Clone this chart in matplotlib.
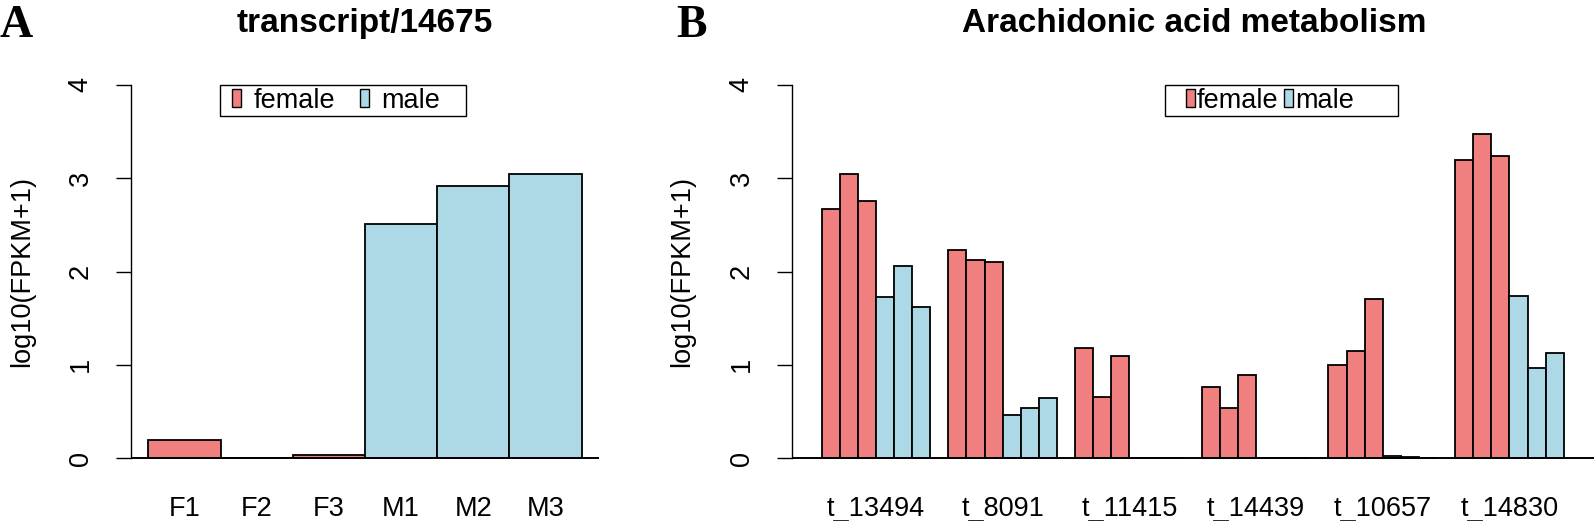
import matplotlib.pyplot as plt
import numpy as np
from matplotlib.patches import Rectangle, Patch

plt.rcParams['font.family'] = 'Liberation Sans'

# panel A data
samples_a = ['F1', 'F2', 'F3', 'M1', 'M2', 'M3']
sex_a = ['female', 'female', 'female', 'male', 'male', 'male']
expr_a = [0.19, 0.0, 0.03, 2.51, 2.92, 3.05]

# panel B data (3 female reps, 3 male reps per transcript)
genes_b = ['t_13494', 't_8091', 't_11415', 't_14439', 't_10657', 't_14830']
female_b = [[2.67, 3.05, 2.76],
            [2.23, 2.12, 2.10],
            [1.18, 0.65, 1.09],
            [0.76, 0.54, 0.89],
            [1.00, 1.15, 1.71],
            [3.20, 3.47, 3.24]]
male_b = [[1.73, 2.06, 1.62],
          [0.46, 0.54, 0.64],
          [0.0, 0.0, 0.0],
          [0.0, 0.0, 0.0],
          [0.02, 0.007, 0.0],
          [1.74, 0.97, 1.13]]

colors = {'female': '#F08080', 'male': '#ADD8E6'}
W, H = 1594, 521
fs = 19.5


def fx(p):
    return p / W


def fy(p):
    return 1 - p / H


def style_axis(ax):
    ax.set_ylim(-0.16, 4.16)
    for s in ['top', 'right', 'bottom']:
        ax.spines[s].set_visible(False)
    ax.spines['left'].set_bounds(0, 4)
    ax.spines['left'].set_linewidth(1.0)
    ax.set_yticks(range(5))
    ax.tick_params(axis='y', length=10.8, width=1.0, pad=16, labelsize=fs)
    for lab in ax.get_yticklabels():
        lab.set_rotation(90)
        lab.set_va('center')
    ax.tick_params(axis='x', length=0, pad=16.5, labelsize=fs)
    ax.axhline(0, color='black', lw=1.4, zorder=5)


def add_legend(box, start_x, textpad, colspace):
    x0, y0, x1, y1 = box
    fig.add_artist(Rectangle((fx(x0), fy(y1)), fx(x1) - fx(x0), (y1 - y0) / H,
                             transform=fig.transFigure, facecolor='white',
                             edgecolor='black', lw=1.0, zorder=10))
    handles = [Patch(facecolor=colors[k], edgecolor='black', lw=1.0) for k in ['female', 'male']]
    leg = fig.legend(handles, ['female', 'male'], loc='center left',
                     bbox_to_anchor=(fx(start_x), fy((y0 + y1) / 2)),
                     bbox_transform=fig.transFigure, frameon=False, ncol=2,
                     borderpad=0, borderaxespad=0, handlelength=0.35, handleheight=0.68,
                     handletextpad=textpad, columnspacing=colspace, fontsize=fs)
    leg.set_zorder(11)


fig = plt.figure(figsize=(15.94, 5.21), dpi=100)

# Panel A
ax_a = fig.add_axes([fx(131), fy(473), (599 - 131) / W, (473 - 70) / H])
x_a = np.arange(len(samples_a)) + 0.5
ax_a.bar(x_a, expr_a, width=1.0, color=[colors[s] for s in sex_a],
         edgecolor='black', linewidth=1.3)
ax_a.set_xlim(-0.24, 6.24)
style_axis(ax_a)
ax_a.set_xticks(x_a, samples_a)
add_legend((220, 85, 466, 116), 232, 0.45, 0.9)

# Panel B
ax_b = fig.add_axes([fx(792), fy(473), (W - 792) / W, (473 - 70) / H])
n_grp = len(genes_b)
centers = []
for g in range(n_grp):
    base = 1 + g * 7
    vals = female_b[g] + male_b[g]
    cols = [colors['female']] * 3 + [colors['male']] * 3
    ax_b.bar(base + np.arange(6) + 0.5, vals, width=1.0, color=cols,
             edgecolor='black', linewidth=1.3)
    centers.append(base + 3)
ax_b.set_xlim(-0.64, 43.67)
style_axis(ax_b)
ax_b.set_xticks(centers, genes_b)
add_legend((1165, 85, 1398, 116), 1186, 0.05, 0.2)

# titles, y labels, panel letters
fig.text(fx(365), fy(32), 'transcript/14675', ha='center', va='baseline',
         fontsize=24, fontweight='bold')
fig.text(fx(1194), fy(32), 'Arachidonic acid metabolism', ha='center', va='baseline',
         fontsize=24, fontweight='bold')
for xp in [22.5, 682.5]:
    fig.text(fx(xp), fy(271.5), 'log10(FPKM+1)', rotation=90, ha='center', va='center',
             fontsize=fs)
fig.text(fx(0), fy(37), 'A', ha='left', va='baseline', fontsize=33,
         fontweight='bold', family='Liberation Serif')
fig.text(fx(676), fy(37), 'B', ha='left', va='baseline', fontsize=33,
         fontweight='bold', family='Liberation Serif')

fig.savefig('out.png', dpi=100)
